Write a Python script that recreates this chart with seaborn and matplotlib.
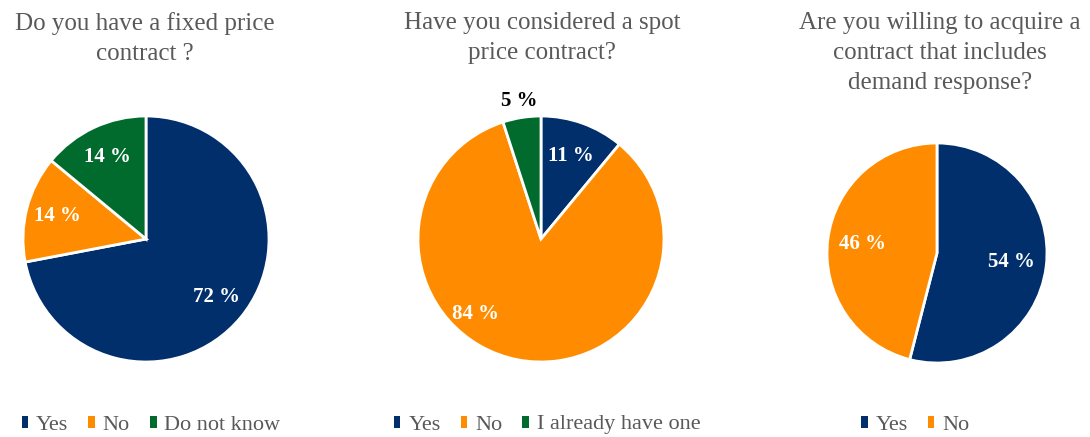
import matplotlib
matplotlib.use("Agg")
import numpy as np
import matplotlib.pyplot as plt
import seaborn as sns
from matplotlib.patches import Patch

sns.set_theme(style="white")
plt.rcParams['font.family'] = ['Liberation Serif', 'DejaVu Serif']

# Data
titles = ["Do you have a fixed price\ncontract ?",
          "Have you considered a spot\nprice contract?",
          "Are you willing to acquire a\ncontract that includes\ndemand response?"]
labels1 = ["Yes", "No", "Do not know"]
values1 = [72, 14, 14]
labels2 = ["Yes", "No", "I already have one"]
values2 = [11, 84, 5]
labels3 = ["Yes", "No"]
values3 = [54, 46]

palette = sns.color_palette(["#002F6C", "#FF8C00", "#006B2D"])

W, H = 1090, 437
fig = plt.figure(figsize=(W / 100, H / 100), dpi=100)

def px_axes(cx, cy, r):
    return fig.add_axes([(cx - r) / W, (H - cy - r) / H, 2 * r / W, 2 * r / H])

pies = [
    (values1, labels1, titles[0], (146, 239, 123), 0.74),
    (values2, labels2, titles[1], (541, 239, 123), 0.72),
    (values3, labels3, titles[2], (937, 253, 110), 0.68),
]
title_x = [145, 542, 940]
legend_y = 425
legend_x = [151, 547, 915]

# label placement tweaks (pie index, slice index) -> (radius, angle shift in deg)
tweaks = {(1, 1): (0.81, -30), (1, 2): (1.14, 0)}

for i, (vals, labs, title, (cx, cy, r), pd) in enumerate(pies):
    ax = px_axes(cx, cy, r)
    cols = palette[:len(vals)]
    wedges, texts, autotexts = ax.pie(
        vals, colors=cols, startangle=90, counterclock=False,
        autopct=lambda p: f"{p:.0f} %", pctdistance=pd,
        wedgeprops=dict(edgecolor="white", linewidth=2),
        textprops=dict(color="white", fontsize=15, fontweight="bold"))
    ax.set_xlim(-1, 1)
    ax.set_ylim(-1, 1)
    ax.set_aspect("equal")
    ax.axis("off")
    for j, (w, t) in enumerate(zip(wedges, autotexts)):
        if (i, j) in tweaks:
            rad, dang = tweaks[(i, j)]
            ang = np.deg2rad((w.theta1 + w.theta2) / 2 + dang)
            t.set_position((rad * np.cos(ang), rad * np.sin(ang)))
    if i == 1:
        autotexts[2].set_color("black")
    fig.text(title_x[i] / W, 1 - 12 / H, title, ha="center", va="top",
             fontsize=18, color="#595959", linespacing=1.48)
    handles = [Patch(facecolor=c, edgecolor="none") for c in cols]
    fig.legend(handles, labs, loc="center", bbox_to_anchor=(legend_x[i] / W, 1 - legend_y / H),
               ncol=len(labs), frameon=False, fontsize=16, labelcolor="#595959",
               handlelength=0.3, handleheight=0.45, handletextpad=0.35, columnspacing=0.9)

fig.savefig("out.png", dpi=100, facecolor="white")
